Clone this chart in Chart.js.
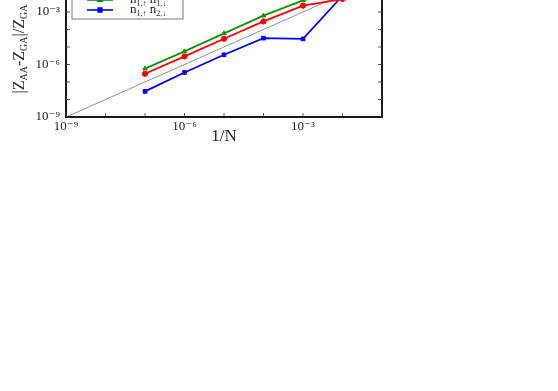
<!DOCTYPE html>
<html>
<head>
<meta charset="utf-8">
<script src="https://cdn.jsdelivr.net/npm/chart.js@4"></script>
<style>
  html, body { margin: 0; padding: 0; background: #fff; overflow: hidden; }
  #wrap { position: absolute; left: 0; top: -40px; width: 558px; height: 200px; }
</style>
</head>
<body>
<div id="wrap"><canvas id="chart" width="558" height="200"></canvas></div>
<script>
// data
const invN = [1e-7, 1e-6, 1e-5, 1e-4, 1e-3, 1e-2];
const redVals = [2.95e-7, 2.9e-6, 2.95e-5, 2.9e-4, 2.3e-3, 5.5e-3];
const greenVals = [5.8e-7, 5.6e-6, 6.0e-5, 6.2e-4, 4.6e-3, 1.5e-2];
const blueVals = [2.9e-8, 3.5e-7, 3.6e-6, 3.2e-5, 2.9e-5, 8.5e-3];
const refLine = [1e-9, 1e-1];

const seriesLabels = ["n_{1,↑} n_{2,↑}", "n_{1,↑} n_{1,↓}", "n_{1,↑} n_{2,↓}"];
const yTitle = "|Z_{AA}-Z_{GA}|/Z_{GA}";
const xTitle = "1/N";

const decadeExps = [-9, -8, -7, -6, -5, -4, -3, -2, -1];
const labelExps = [-9, -6, -3];

const serif = "'Liberation Serif', 'DejaVu Serif', serif";
const sup = { "-": "⁻", "0": "⁰", "1": "¹", "2": "²", "3": "³", "4": "⁴", "5": "⁵", "6": "⁶", "7": "⁷", "8": "⁸", "9": "⁹" };
const powLabel = e => "10" + String(e).split("").map(c => sup[c]).join("");

const pts = vals => vals.map((v, i) => ({ x: invN[i], y: v }));

// draws "a_{b}c" style text with lowered small subscripts
function drawSubText(ctx, txt, x, y, size, align) {
  const parts = [];
  txt.replace(/([^_]+)|_\{([^}]*)\}/g, (m, a, b) => {
    if (a) parts.push([a, false]); else parts.push([b, true]);
  });
  const big = size + "px " + serif, small = Math.round(size * 0.62) + "px " + serif;
  let w = 0;
  parts.forEach(p => { ctx.font = p[1] ? small : big; w += ctx.measureText(p[0]).width; });
  let cx = align === "center" ? x - w / 2 : x;
  ctx.textAlign = "left";
  ctx.textBaseline = "middle";
  parts.forEach(p => {
    ctx.font = p[1] ? small : big;
    ctx.fillText(p[0], cx, p[1] ? y + size * 0.28 : y);
    cx += ctx.measureText(p[0]).width;
  });
}

const framePlugin = {
  id: "frame",
  afterDraw(chart) {
    const ctx = chart.ctx, a = chart.chartArea;
    const xs = chart.scales.x, ys = chart.scales.y;
    ctx.save();
    ctx.strokeStyle = "#000";
    ctx.lineWidth = 1.8;
    ctx.strokeRect(a.left, a.top, a.right - a.left, a.bottom - a.top);
    ctx.lineWidth = 0.8;
    ctx.strokeStyle = "#333";
    decadeExps.forEach(e => {
      const px = xs.getPixelForValue(Math.pow(10, e));
      const py = ys.getPixelForValue(Math.pow(10, e));
      ctx.beginPath();
      ctx.moveTo(px, a.bottom); ctx.lineTo(px, a.bottom - 4);
      ctx.moveTo(a.left, py); ctx.lineTo(a.left + 4, py);
      ctx.moveTo(a.right, py); ctx.lineTo(a.right - 4, py);
      ctx.stroke();
    });

    // y title
    ctx.fillStyle = "#222";
    ctx.save();
    ctx.translate(20, (a.top + a.bottom) / 2 + 2);
    ctx.rotate(-Math.PI / 2);
    drawSubText(ctx, yTitle, 0, 0, 16, "center");
    ctx.restore();

    // legend in upper left of plot
    const bx = a.left + 6, bw = 111, rowH = 10;
    const n = chart.data.datasets.length - 1;
    const bTop = a.top + 4, bH = n * rowH + 8;
    ctx.fillStyle = "#fff";
    ctx.fillRect(bx, bTop, bw, bH);
    ctx.lineWidth = 0.8;
    ctx.strokeStyle = "#555";
    ctx.strokeRect(bx, bTop, bw, bH);
    for (let i = 0; i < n; i++) {
      const ds = chart.data.datasets[i];
      const y = bTop + 4 + rowH * i + rowH / 2;
      ctx.strokeStyle = ds.borderColor;
      ctx.fillStyle = ds.borderColor;
      ctx.lineWidth = 1.6;
      ctx.beginPath();
      ctx.moveTo(bx + 15, y); ctx.lineTo(bx + 41, y);
      ctx.stroke();
      Chart.helpers.drawPoint(ctx, {
        pointStyle: ds.pointStyle, radius: ds.pointRadius, borderWidth: 1
      }, bx + 28, y);
      ctx.fillStyle = "#222";
      drawSubText(ctx, ds.label, bx + 58, y, 13, "left");
    }
    ctx.restore();
  }
};

function series(label, color, style, vals) {
  return {
    label: label, data: pts(vals), borderColor: color, backgroundColor: color,
    borderWidth: 1.8, pointStyle: style, pointRadius: 2.6, pointBorderWidth: 1,
    showLine: true, tension: 0
  };
}

const tickOpts = {
  autoSkip: false, maxRotation: 0, color: "#222",
  font: { family: serif, size: 13 },
  callback: v => {
    const e = Math.round(Math.log10(v));
    return labelExps.includes(e) ? powLabel(e) : "";
  }
};

new Chart(document.getElementById("chart").getContext("2d"), {
  type: "scatter",
  data: {
    datasets: [
      series(seriesLabels[0], "#ff0000", "circle", redVals),
      series(seriesLabels[1], "#109010", "triangle", greenVals),
      series(seriesLabels[2], "#0000ff", "rect", blueVals),
      {
        label: "ref", data: refLine.map(v => ({ x: v, y: v })),
        borderColor: "#777", borderWidth: 0.8, pointRadius: 0, showLine: true
      }
    ]
  },
  options: {
    responsive: false,
    animation: false,
    layout: { padding: { left: 0, right: 176, top: 17, bottom: 13 } },
    plugins: { legend: { display: false }, tooltip: { enabled: false } },
    scales: {
      x: {
        type: "logarithmic", min: 1e-9, max: 1e-1,
        afterFit: s => { s.height = 30; },
        afterBuildTicks: s => { s.ticks = decadeExps.map(e => ({ value: Math.pow(10, e) })); },
        grid: { display: false, drawTicks: false },
        border: { display: false },
        ticks: Object.assign({ padding: 2 }, tickOpts),
        title: {
          display: true, text: xTitle, color: "#222",
          font: { family: serif, size: 17 }, padding: { top: 0, bottom: 0 }
        }
      },
      y: {
        type: "logarithmic", min: 1e-9, max: 1e-1,
        afterFit: s => { s.width = 66; },
        afterBuildTicks: s => { s.ticks = decadeExps.map(e => ({ value: Math.pow(10, e) })); },
        grid: { display: false, drawTicks: false },
        border: { display: false },
        ticks: Object.assign({ padding: 6 }, tickOpts)
      }
    }
  },
  plugins: [framePlugin]
});
</script>
</body>
</html>
